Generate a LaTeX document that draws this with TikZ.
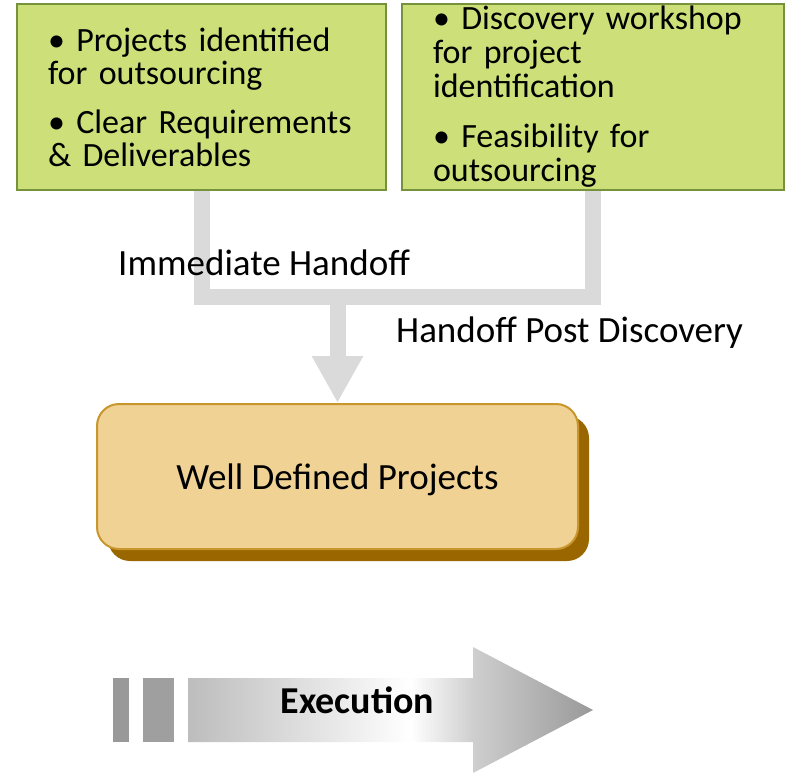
\documentclass[tikz,border=0pt]{standalone}
\usepackage{fontspec}
\setmainfont{Carlito}
\usepackage{tikz}
\usetikzlibrary{
  arrows.meta,
  calc,
  positioning,
  shadows,
}
\tikzstyle{stage} = [
  rectangle,
  draw=olivedraw,
  fill=olivefill,
  line width=2pt,
  inner xsep=31pt,
  inner ysep=0pt,
  minimum height=186pt,
  align=left,
  font=\fontsize{34}{33}\selectfont,
]
\tikzstyle{handoff} = [
  line width=16pt,
  draw=handoffgray,
  line join=miter,
]
\tikzstyle{handofftext} = [
  inner sep=0pt,
  anchor=base west,
  font=\fontsize{37}{44}\selectfont,
]
\definecolor{olivefill}{RGB}{205, 223, 121}
\definecolor{olivedraw}{RGB}{118, 146, 60}
\definecolor{handoffgray}{RGB}{218, 218, 218}
\definecolor{sandfill}{RGB}{240, 210, 148}
\definecolor{sanddraw}{RGB}{200, 150, 44}
\definecolor{sandshadow}{RGB}{154, 102, 0}
\pgfdeclarehorizontalshading{execshade}{100bp}{
  color(0bp)=(gray!52); color(25bp)=(gray!52); color(52.5bp)=(white);
  color(60.2bp)=(gray!38); color(75bp)=(gray!80); color(100bp)=(gray!80)}

\begin{document}
\begin{tikzpicture}[x=1pt,y=-1pt]
			\useasboundingbox (0,0) rectangle (785,773);

			\node[stage,text width=307pt] (ident) at (201.5,97) {• Projects identified\\for outsourcing\\[16pt]• Clear Requirements\\\& Deliverables};
			\node[stage,text width=320pt,font=\fontsize{34}{34}\selectfont] (discover) at (593,97) {• Discovery workshop\\for project\\identification\\[16pt]• Feasibility for\\outsourcing};

			\node[rectangle,rounded corners=22pt,draw=sanddraw,fill=sandfill,line width=2pt,minimum width=481pt,minimum height=145pt,text depth=0pt,drop shadow={shadow xshift=11pt,shadow yshift=-12pt,fill=sandshadow,opacity=1},font=\fontsize{37}{44}\selectfont] (defined) at (337.5,476.5) {Well Defined Projects};

			\coordinate (hub) at (defined.north |- 0,297);
			\draw[handoff] (ident.south) |- (hub) -| (discover.south);
			\draw[handoff,-{Triangle[width=48pt,length=47pt]}] (hub) -- (defined.north);

			\node[handofftext] (immediate) at (118,275) {Immediate Handoff};
			\node[handofftext] (postdisc) at (396,342) {Handoff Post Discovery};

			\fill[gray!80] (113,678) rectangle (129,742);
			\fill[gray!75] (143,678) rectangle (174,742);
			\path[shading=execshade] (188,678) -- (473,678) -- (473,647) -- (593,710) -- (473,773) -- (473,742) -- (188,742) -- cycle;
			\node[inner sep=0pt,anchor=base,font=\bfseries\fontsize{38}{44}\selectfont] (execution) at (357.5,713) {Execution};
		\end{tikzpicture}
\end{document}
